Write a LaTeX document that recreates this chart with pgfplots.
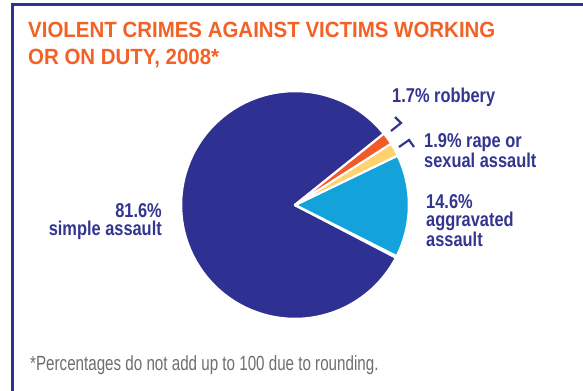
\documentclass[border=0pt]{standalone}
\usepackage{pgfplots}
\pgfplotsset{compat=1.18}
\usepackage{fontspec}
\setmainfont{Liberation Sans}
\newfontfamily\titlef{Liberation Sans}[FakeStretch=0.93]
\newfontfamily\labf{Liberation Sans}[FakeStretch=0.82]
\newfontfamily\notef{Liberation Sans}[FakeStretch=0.74]
\definecolor{dkblue}{HTML}{2E3192}
\definecolor{txtblue}{HTML}{33358F}
\definecolor{ltblue}{HTML}{13A2DA}
\definecolor{slorange}{HTML}{F15A29}
\definecolor{slyellow}{HTML}{FFD26E}
\definecolor{ttlorange}{HTML}{F26125}
\definecolor{notegray}{HTML}{6D6E71}
\begin{document}
\begin{tikzpicture}
\path[use as bounding box] (0,0) rectangle (583bp,391bp);
% data (percent)
\def\pAgg{14.6}\def\pRape{1.9}\def\pRob{1.7}\def\pSimple{81.6}
\pgfmathsetmacro\aS{-26.8}
\pgfmathsetmacro\aA{\aS+3.6*\pAgg}
\pgfmathsetmacro\aB{\aA+3.6*\pRape}
\pgfmathsetmacro\aC{\aB+3.6*\pRob}
\pgfmathsetmacro\aD{\aC+3.6*\pSimple}
\begin{axis}[at={(0,0)}, anchor=south west, width=583bp, height=391bp,
  scale only axis, hide axis, xmin=0, xmax=583, ymin=0, ymax=391,
  y dir=reverse, clip=false]
% frame
\addplot[draw=dkblue, line width=3bp, line join=miter] coordinates {(12.5,391) (12.5,5) (583,5)};
% pie
\fill[dkblue, draw=white, line width=2.5bp, line join=round] (axis cs:295,205) -- ++(\aC:114bp) arc[start angle=\aC, end angle=\aD, radius=114bp] -- cycle;
\fill[ltblue, draw=white, line width=2.5bp, line join=round] (axis cs:295,205) -- ++(\aS:114bp) arc[start angle=\aS, end angle=\aA, radius=114bp] -- cycle;
\fill[slyellow, draw=white, line width=2bp, line join=round] (axis cs:295,205) -- ++(\aA:114bp) arc[start angle=\aA, end angle=\aB, radius=114bp] -- cycle;
\fill[slorange, draw=white, line width=2bp, line join=round] (axis cs:295,205) -- ++(\aB:114bp) arc[start angle=\aB, end angle=\aC, radius=114bp] -- cycle;
% leaders
\addplot[draw=txtblue, line width=2.2bp] coordinates {(395,117) (401,123) (391,131)};
\addplot[draw=txtblue, line width=2.2bp] coordinates {(399,147) (409,140) (414,147)};
% title (base anchor = last line's baseline)
\node[anchor=base west, inner sep=0pt, text=ttlorange, align=left, font=\titlef\bfseries\fontsize{22bp}{27bp}\selectfont] at (axis cs:28,64) {VIOLENT CRIMES AGAINST VICTIMS WORKING\\OR ON DUTY, 2008*};
% labels
\tikzset{lab/.style={inner sep=0pt, text=txtblue, font=\labf\bfseries\fontsize{20bp}{18bp}\selectfont}}
\node[lab, anchor=base west] at (axis cs:392,102) {1.7\% robbery};
\node[lab, anchor=base west, align=left] at (axis cs:424,167) {1.9\% rape or\\sexual assault};
\node[lab, anchor=base west, align=left] at (axis cs:426,246) {14.6\%\\aggravated\\assault};
\node[lab, anchor=base east, align=right] at (axis cs:162,235) {81.6\%\\simple assault};
% footnote
\node[anchor=base west, inner sep=0pt, text=notegray, font=\notef\fontsize{20.5bp}{24bp}\selectfont] at (axis cs:30,370) {*Percentages do not add up to 100 due to rounding.};
\end{axis}
\end{tikzpicture}
\end{document}
